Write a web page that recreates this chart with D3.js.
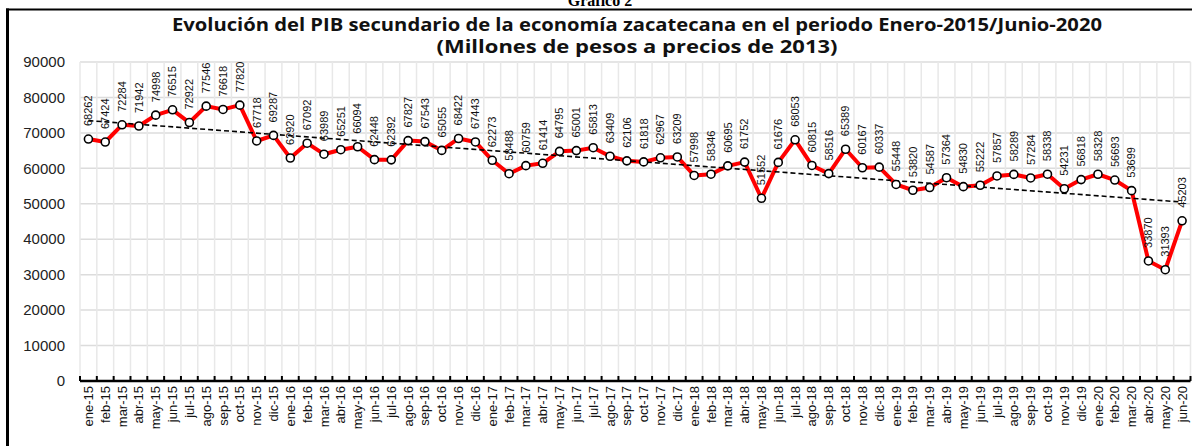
<!DOCTYPE html>
<html>
<head>
<meta charset="utf-8">
<script src="https://cdn.jsdelivr.net/npm/d3@7"></script>
<style>
  body { margin: 0; background: #fff; }
  svg { display: block; }
</style>
</head>
<body>
<div id="chart"></div>
<script>
const months = [
  "ene-15","feb-15","mar-15","abr-15","may-15","jun-15","jul-15","ago-15","sep-15","oct-15","nov-15","dic-15",
  "ene-16","feb-16","mar-16","abr-16","may-16","jun-16","jul-16","ago-16","sep-16","oct-16","nov-16","dic-16",
  "ene-17","feb-17","mar-17","abr-17","may-17","jun-17","jul-17","ago-17","sep-17","oct-17","nov-17","dic-17",
  "ene-18","feb-18","mar-18","abr-18","may-18","jun-18","jul-18","ago-18","sep-18","oct-18","nov-18","dic-18",
  "ene-19","feb-19","mar-19","abr-19","may-19","jun-19","jul-19","ago-19","sep-19","oct-19","nov-19","dic-19",
  "ene-20","feb-20","mar-20","abr-20","may-20","jun-20"
];
const pib = [
  68262, 67424, 72284, 71942, 74998, 76515, 72922, 77546, 76618, 77820, 67718, 69287,
  62920, 67092, 63989, 65251, 66094, 62448, 62392, 67827, 67543, 65055, 68422, 67443,
  62273, 58488, 60759, 61414, 64795, 65001, 65813, 63409, 62106, 61818, 62967, 63209,
  57998, 58346, 60695, 61752, 51552, 61676, 68053, 60815, 58516, 65389, 60167, 60337,
  55448, 53820, 54587, 57364, 54830, 55222, 57857, 58289, 57284, 58338, 54231, 56818,
  58328, 56693, 53699, 33870, 31393, 45203
];
const yTicks = [0, 10000, 20000, 30000, 40000, 50000, 60000, 70000, 80000, 90000];
const titleLines = [
  "Evolución del PIB secundario de la economía zacatecana en el periodo Enero-2015/Junio-2020",
  "(Millones de pesos a precios de 2013)"
];

const W = 1192, H = 446;
const pLeft = 80, pRight = 1190.5, pTop = 62, pBottom = 381;

const svg = d3.select("#chart").append("svg")
  .attr("width", W)
  .attr("height", H);

// heading above the frame (mostly hidden)
svg.append("text")
  .attr("x", 600).attr("y", 6)
  .attr("text-anchor", "middle")
  .attr("font-family", "Liberation Serif")
  .attr("font-weight", 700)
  .attr("font-size", 16)
  .text("Gráfico 2");

// frame
svg.append("rect").attr("x", 0).attr("y", 8.5).attr("width", W).attr("height", H)
  .attr("fill", "#fff");
svg.append("line").attr("x1", 6).attr("x2", W).attr("y1", 9.5).attr("y2", 9.5)
  .attr("stroke", "#000").attr("stroke-width", 2);
svg.append("line").attr("x1", 7.5).attr("x2", 7.5).attr("y1", 8.5).attr("y2", H)
  .attr("stroke", "#000").attr("stroke-width", 3);

const x = d3.scaleBand().domain(months).range([pLeft, pRight]);
const y = d3.scaleLinear().domain([0, 90000]).range([pBottom, pTop]);
const cx = d => x(d) + x.bandwidth() / 2;

// title
svg.selectAll(".title")
  .data(titleLines)
  .enter()
  .append("text")
  .attr("class", "title")
  .attr("x", 637)
  .attr("y", (d, i) => 31 + i * 22)
  .attr("text-anchor", "middle")
  .attr("font-family", "Open Sans")
  .attr("font-weight", 700)
  .attr("font-size", 17)
  .attr("textLength", (d, i) => i === 0 ? 930 : 401)
  .attr("lengthAdjust", "spacingAndGlyphs")
  .attr("fill", "#111")
  .text(d => d);

// grid
svg.append("g")
  .selectAll("line")
  .data(yTicks.slice(1))
  .enter()
  .append("line")
  .attr("x1", pLeft).attr("x2", pRight)
  .attr("y1", d => y(d)).attr("y2", d => y(d))
  .attr("stroke", "#dcdcdc").attr("stroke-width", 1.5);

svg.append("g")
  .selectAll("line")
  .data(months.concat(["end"]))
  .enter()
  .append("line")
  .attr("x1", (d, i) => pLeft + i * x.bandwidth())
  .attr("x2", (d, i) => pLeft + i * x.bandwidth())
  .attr("y1", pTop).attr("y2", pBottom)
  .attr("stroke", "#e8e8e8").attr("stroke-width", 1.5);

// y labels
svg.append("g")
  .selectAll("text")
  .data(yTicks)
  .enter()
  .append("text")
  .attr("x", 65)
  .attr("y", d => y(d))
  .attr("dy", "0.35em")
  .attr("text-anchor", "end")
  .attr("font-family", "Liberation Sans")
  .attr("font-size", 15)
  .attr("fill", "#222")
  .text(d => d);

// x axis
const xAxis = d3.axisBottom(x).tickSize(0).tickFormat("");
const ax = svg.append("g").attr("transform", `translate(0,${pBottom})`).call(xAxis);
ax.select(".domain").attr("stroke", "#000").attr("stroke-width", 2.5)
  .attr("d", `M${pLeft},0H${pRight}`);
ax.selectAll(".tick").remove();
svg.append("g")
  .selectAll("line")
  .data(months.concat(["end"]))
  .enter()
  .append("line")
  .attr("x1", (d, i) => pLeft + i * x.bandwidth())
  .attr("x2", (d, i) => pLeft + i * x.bandwidth())
  .attr("y1", pBottom).attr("y2", pBottom - 5)
  .attr("stroke", "#000").attr("stroke-width", 2);

svg.append("g")
  .selectAll("text")
  .data(months)
  .enter()
  .append("text")
  .attr("transform", d => `translate(${cx(d)},${pBottom + 5}) rotate(-90)`)
  .attr("dy", "0.35em")
  .attr("text-anchor", "end")
  .attr("font-family", "Liberation Sans")
  .attr("font-size", 13)
  .attr("fill", "#111")
  .text(d => d);

// trend (least squares over month index)
const n = pib.length;
const idx = d3.range(n);
const mx = d3.mean(idx), my = d3.mean(pib);
const slope = d3.sum(idx, i => (i - mx) * (pib[i] - my)) / d3.sum(idx, i => (i - mx) * (i - mx));
const icpt = my - slope * mx;

// series
const line = d3.line().x((d, i) => cx(months[i])).y(d => y(d));
svg.append("path")
  .datum(pib)
  .attr("d", line)
  .attr("fill", "none")
  .attr("stroke", "#ff0000")
  .attr("stroke-width", 4)
  .attr("stroke-linejoin", "round");

svg.append("line")
  .attr("x1", cx(months[0])).attr("y1", y(icpt))
  .attr("x2", cx(months[n - 1])).attr("y2", y(icpt + slope * (n - 1)))
  .attr("stroke", "#000").attr("stroke-width", 1.6)
  .attr("stroke-dasharray", "5,3");

svg.append("g")
  .selectAll("circle")
  .data(pib)
  .enter()
  .append("circle")
  .attr("cx", (d, i) => cx(months[i]))
  .attr("cy", d => y(d))
  .attr("r", 4)
  .attr("fill", "#fff")
  .attr("stroke", "#000")
  .attr("stroke-width", 1.6);

// value labels
svg.append("g")
  .selectAll("text")
  .data(pib)
  .enter()
  .append("text")
  .attr("transform", (d, i) => `translate(${cx(months[i])},${y(d) - 13}) rotate(-90)`)
  .attr("dy", "0.35em")
  .attr("font-family", "Liberation Sans")
  .attr("font-size", 11)
  .attr("fill", "#111")
  .text(d => d);
</script>
</body>
</html>
